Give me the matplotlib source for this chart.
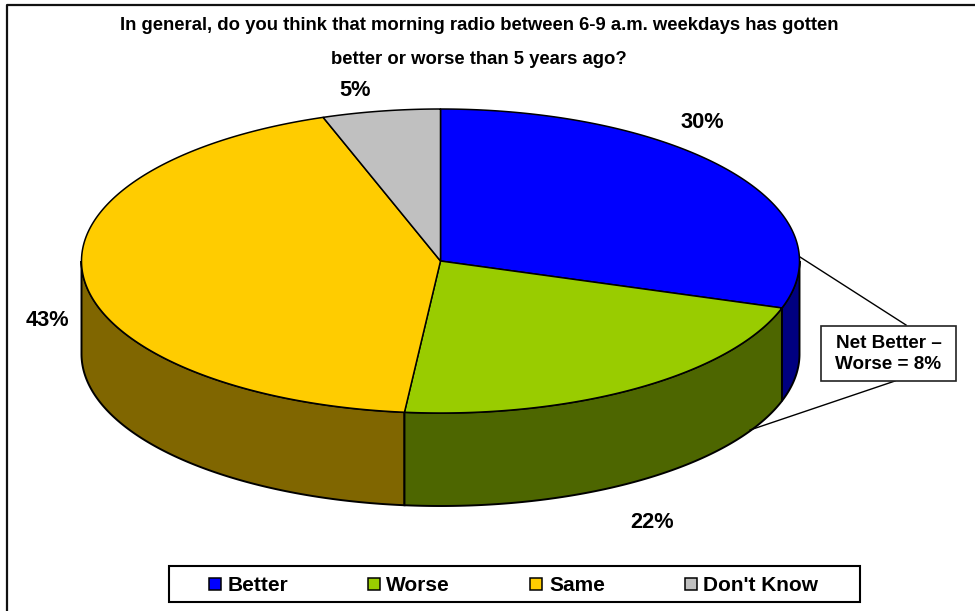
import numpy as np
import matplotlib
matplotlib.use("Agg")
import matplotlib.pyplot as plt
from matplotlib.patches import Polygon, Rectangle

plt.rcParams['font.family'] = ['Liberation Sans', 'DejaVu Sans']

categories = ["Better", "Worse", "Same", "Don't Know"]
values = [30.0, 21.6, 43.1, 5.3]
shown_labels = ["30%", "22%", "43%", "5%"]
top_colors = ["#0000FF", "#99CC00", "#FFCC00", "#C0C0C0"]
side_colors = ["#000080", "#4D6600", "#806600", "#606060"]
title_lines = ["In general, do you think that morning radio between 6-9 a.m. weekdays has gotten",
               "better or worse than 5 years ago?"]
callout_lines = "Net Better \u2013\nWorse = 8%"

W, H = 975, 611
fig = plt.figure(figsize=(W / 100, H / 100), dpi=100, facecolor="white")
ax = fig.add_axes([0, 0, 1, 1])
ax.set_xlim(0, W)
ax.set_ylim(H, 0)
ax.axis("off")

cx, cy, rx, ry, depth = 440.5, 261, 359, 152, 93
EDGE = "#000000"


def rim(a0, a1, n=200):
    t = np.radians(np.linspace(a0, a1, n))
    return cx + rx * np.sin(t), cy - ry * np.cos(t)


# frame (left and top edges only show in the picture)
ax.plot([7, 7, W], [H, 5, 5], color="#111111", lw=1.6, solid_capstyle="butt")

cum = np.concatenate([[0], np.cumsum(values)]) / np.sum(values) * 360.0

# side walls: visible part is the front half (angles 90..270)
order = [2, 0, 1]
for i in order:
    a0, a1 = max(cum[i], 90), min(cum[i + 1], 270)
    if a1 <= a0:
        continue
    x, y = rim(a0, a1)
    pts = np.column_stack([np.r_[x, x[::-1]], np.r_[y, y[::-1] + depth]])
    ax.add_patch(Polygon(pts, closed=True, fc=side_colors[i], ec=EDGE, lw=1.4, zorder=2))

# top faces
for i in range(len(values)):
    x, y = rim(cum[i], cum[i + 1])
    pts = np.column_stack([np.r_[cx, x], np.r_[cy, y]])
    ax.add_patch(Polygon(pts, closed=True, fc=top_colors[i], ec=EDGE, lw=1.1,
                         joinstyle="round", zorder=3))

# percentage labels
label_pos = [(702, 123), (652, 523), (47, 321), (355, 90)]
for s, (lx, ly) in zip(shown_labels, label_pos):
    ax.text(lx, ly, s, ha="center", va="center", fontsize=15.7, fontweight="bold", color="black")

# title
ax.text(479, 25, title_lines[0], ha="center", va="center", fontsize=13.35, fontweight="bold")
ax.text(479, 59, title_lines[1], ha="center", va="center", fontsize=13.35, fontweight="bold")

# callout
ax.plot([800, 906], [257, 325], color="black", lw=1, zorder=4)
ax.plot([750, 895], [430, 381], color="black", lw=1, zorder=4)
ax.add_patch(Rectangle((820.5, 325.5), 135, 55, fc="white", ec="#222222", lw=1.2, zorder=5))
ax.text(888.5, 354, callout_lines, ha="center", va="center", fontsize=13.6, fontweight="bold",
        linespacing=1.38, zorder=6)

# legend
ax.add_patch(Rectangle((168.5, 566), 691, 36, fc="white", ec="black", lw=1.5, zorder=5))
swatch_x = [208.5, 367.5, 529.5, 684.5]
text_x = [228, 386, 549, 703]
for c, col, sx, tx in zip(categories, top_colors, swatch_x, text_x):
    ax.add_patch(Rectangle((sx, 577.5), 12.5, 12.5, fc=col, ec="black", lw=1.1, zorder=6))
    ax.text(tx, 585.5, c, ha="left", va="center", fontsize=15, fontweight="bold", zorder=6)

fig.savefig("out.png", dpi=100, facecolor="white")
